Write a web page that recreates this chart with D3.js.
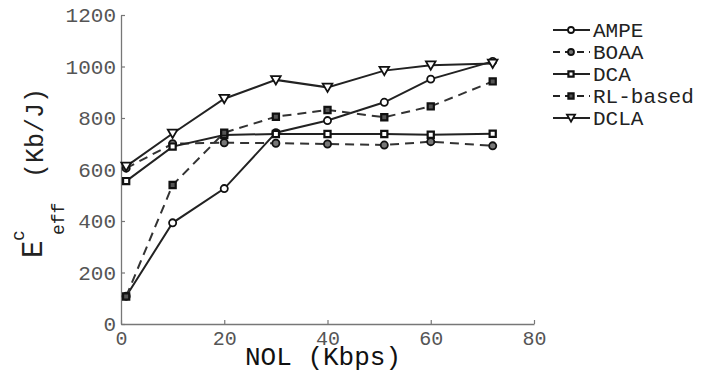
<!DOCTYPE html>
<html>
<head>
<meta charset="utf-8">
<script src="https://cdn.jsdelivr.net/npm/d3@7"></script>
<style>
  body { margin: 0; background: #fff; }
  text { font-family: "Liberation Mono", "Courier New", monospace; }
</style>
</head>
<body>
<div id="chart"></div>
<script>
// data
var nol = [1, 10, 20, 30, 40, 51, 60, 72];
var ampe = [108, 393, 526, 743, 790, 861, 951, 1020];
var boaa = [605, 700, 704, 702, 699, 695, 708, 692];
var dca = [555, 689, 734, 738, 738, 738, 735, 739];
var rlBased = [107, 540, 743, 805, 831, 803, 845, 942];
var dcla = [612, 740, 875, 948, 919, 984, 1005, 1012];
var xTicks = [0, 20, 40, 60, 80];
var yTicks = [0, 200, 400, 600, 800, 1000, 1200];

var series = [
  {name: "AMPE", values: ampe, dash: null, marker: "circle", fill: "#fff"},
  {name: "BOAA", values: boaa, dash: "9,6", marker: "circle", fill: "#777"},
  {name: "DCA", values: dca, dash: null, marker: "square", fill: "#fff"},
  {name: "RL-based", values: rlBased, dash: "9,6", marker: "square", fill: "#555"},
  {name: "DCLA", values: dcla, dash: null, marker: "triangle", fill: "#fff"}
];

var width = 710, height = 373;
var svg = d3.select("#chart").append("svg").attr("width", width).attr("height", height);

var x = d3.scaleLinear().domain([0, 80]).range([121, 534]);
var y = d3.scaleLinear().domain([0, 1200]).range([324, 15]);

// axes
var xAxis = svg.append("g").attr("transform", "translate(0," + y(0) + ")")
  .call(d3.axisBottom(x).tickValues(xTicks).tickFormat(d3.format("d"))
    .tickSizeInner(-4).tickSizeOuter(0).tickPadding(7));
var yAxis = svg.append("g").attr("transform", "translate(" + x(0) + ",0)")
  .call(d3.axisLeft(y).tickValues(yTicks).tickFormat(d3.format("d"))
    .tickSizeInner(-4).tickSizeOuter(0).tickPadding(5));

[xAxis, yAxis].forEach(function(a) {
  a.select(".domain").attr("stroke", "#777").attr("stroke-width", 1.3);
  a.selectAll(".tick line").attr("stroke", "#777").attr("stroke-width", 1.2);
  a.selectAll(".tick text").attr("fill", "#555").style("font-family", "Liberation Mono, monospace");
});
xAxis.selectAll(".tick text").style("font-size", "20px");
yAxis.selectAll(".tick text").style("font-size", "21px");

var symbolSizes = {circle: 40, square: 38, triangle: 40};
var symbolTypes = {circle: d3.symbolCircle, square: d3.symbolSquare, triangle: d3.symbolTriangle};

function drawMarker(g, s, cx, cy, scale) {
  var m = g.append("path")
    .attr("d", d3.symbol().type(symbolTypes[s.marker]).size(symbolSizes[s.marker] * scale)())
    .attr("fill", s.fill)
    .attr("stroke", "#111")
    .attr("stroke-width", s.marker === "square" ? 2.2 : 1.8);
  if (s.marker === "triangle") {
    m.attr("transform", "translate(" + cx + "," + (cy - 1) + ") rotate(180)");
  } else {
    m.attr("transform", "translate(" + cx + "," + cy + ")");
  }
}

var line = d3.line().x(function(d) { return x(d[0]); }).y(function(d) { return y(d[1]); });

series.forEach(function(s) {
  var pts = nol.map(function(v, i) { return [v, s.values[i]]; });
  svg.append("path")
    .datum(pts)
    .attr("d", line)
    .attr("fill", "none")
    .attr("stroke", s.dash ? "#333" : "#222")
    .attr("stroke-width", 2)
    .attr("stroke-dasharray", s.dash);
});
series.forEach(function(s) {
  var g = svg.append("g");
  nol.forEach(function(v, i) { drawMarker(g, s, x(v), y(s.values[i]), 1); });
});

// legend
var legend = svg.append("g");
series.forEach(function(s, i) {
  var ly = 30 + i * 22;
  legend.append("line")
    .attr("x1", 553).attr("x2", 590).attr("y1", ly).attr("y2", ly)
    .attr("stroke", "#222").attr("stroke-width", 2.2)
    .attr("stroke-dasharray", s.dash ? "7,5" : null);
  drawMarker(legend, s, 571, ly, 0.7);
  legend.append("text")
    .attr("x", 593).attr("y", ly + 7)
    .attr("fill", "#222")
    .style("font-size", "21px")
    .text(s.name);
});

// axis titles
svg.append("text")
  .attr("x", 323).attr("y", 365)
  .attr("text-anchor", "middle")
  .attr("fill", "#111")
  .style("font-size", "26px")
  .text("NOL (Kbps)");

var yl = svg.append("g").attr("transform", "rotate(-90)").attr("fill", "#222");
yl.append("text").attr("x", -258).attr("y", 42).style("font-size", "29px").text("E");
yl.append("text").attr("x", -241).attr("y", 24).style("font-size", "18px").text("c");
yl.append("text").attr("x", -235).attr("y", 64).style("font-size", "18px").text("eff");
yl.append("text").attr("x", -178).attr("y", 43).style("font-size", "25px").text("(Kb/J)");
</script>
</body>
</html>
